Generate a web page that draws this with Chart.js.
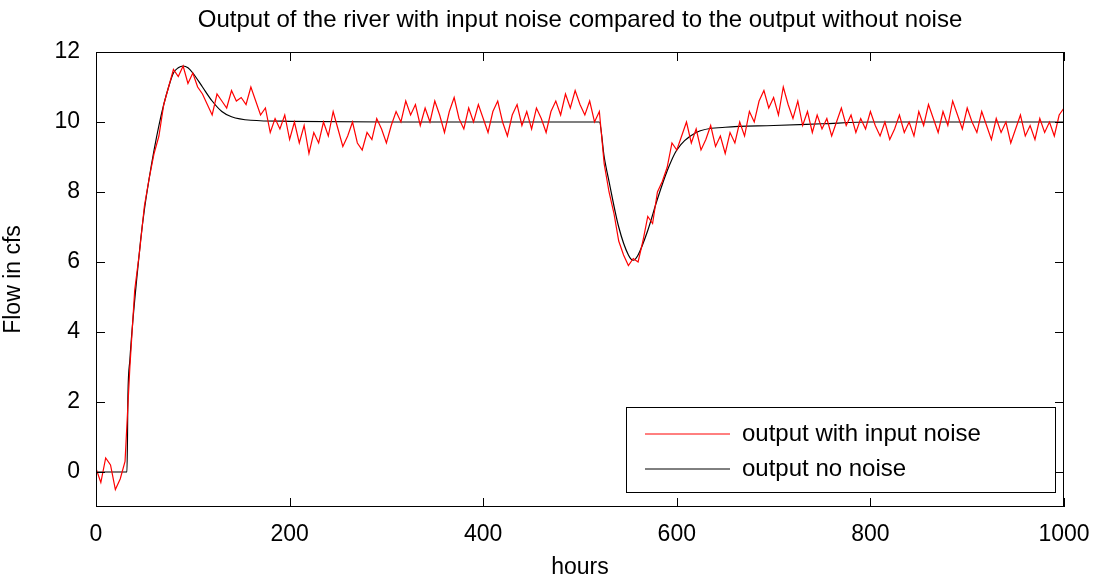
<!DOCTYPE html>
<html>
<head>
<meta charset="utf-8">
<script src="https://cdn.jsdelivr.net/npm/chart.js@4"></script>
<style>
  html, body { margin: 0; padding: 0; background: #fff; }
  #wrap { width: 1102px; height: 585px; }
</style>
</head>
<body>
<div id="wrap"><canvas id="riverChart"></canvas></div>
<script>
const chartTitle = 'Output of the river with input noise compared to the output without noise';
const xTicks = [0, 200, 400, 600, 800, 1000];
const yTicks = [0, 2, 4, 6, 8, 10, 12];

// noisy output, one value every 5 hours from 0 to 1000
const noisyStep = 5;
const noisyFlow = [
  0.1, -0.3, 0.4, 0.2, -0.5, -0.2, 0.3,
  3.0, 5.2, 6.3, 7.6, 8.4, 9.1, 9.6, 10.5, 11.0, 11.5, 11.3, 11.6, 11.1,
  11.4, 11.0, 10.8, 10.5, 10.2, 10.8, 10.6, 10.4, 10.9, 10.6, 10.7, 10.5, 11.0, 10.6, 10.2, 10.4,
  9.7, 10.1, 9.8, 10.2, 9.5, 10.0, 9.4, 9.9, 9.1, 9.7, 9.4, 10.0, 9.6, 10.3, 9.8, 9.3,
  9.6, 10.0, 9.4, 9.2, 9.7, 9.5, 10.1, 9.8, 9.4, 9.9, 10.3, 10.0, 10.6, 10.2, 10.5, 9.9,
  10.4, 10.0, 10.6, 10.2, 9.7, 10.3, 10.7, 10.1, 9.8, 10.4, 10.0, 10.5, 10.1, 9.7, 10.3, 10.6,
  10.0, 9.6, 10.2, 10.5, 9.9, 10.3, 9.8, 10.4, 10.1, 9.7, 10.3, 10.6, 10.2, 10.8, 10.4, 10.9,
  10.5, 10.2, 10.6, 10.0, 10.3, 8.8, 8.0, 7.4, 6.6, 6.2, 5.9, 6.1, 6.0, 6.6, 7.3, 7.1,
  8.0, 8.3, 8.7, 9.4, 9.2, 9.6, 10.0, 9.4, 9.8, 9.2, 9.5, 9.9, 9.3, 9.6, 9.1, 9.7,
  9.4, 10.0, 9.6, 10.3, 10.0, 10.6, 10.9, 10.4, 10.7, 10.2, 11.0, 10.5, 10.1, 10.6, 9.9, 10.3,
  9.7, 10.2, 9.8, 10.1, 9.6, 10.0, 10.4, 9.9, 10.2, 9.7, 10.1, 9.8, 10.3, 9.9, 9.6, 10.0,
  9.5, 9.8, 10.2, 9.7, 10.0, 9.6, 10.3, 9.9, 10.5, 10.1, 9.7, 10.3, 9.9, 10.6, 10.2, 9.8,
  10.4, 10.0, 9.7, 10.3, 9.9, 9.5, 10.1, 9.7, 10.0, 9.4, 9.8, 10.2, 9.6, 9.9, 9.5, 10.1,
  9.7, 10.0, 9.6, 10.2, 10.4
];

// noise-free output
const cleanHours = [0, 32, 33, 35, 38, 42, 46, 50, 55, 60, 65, 70, 75, 80, 85, 90, 95, 100, 110, 120, 130, 140, 160, 200, 300, 520,
  525, 530, 540, 550, 555, 560, 570, 580, 590, 600, 620, 650, 700, 750, 800, 1000];
const cleanFlow = [0, 0, 2.2, 3.2, 4.3, 5.5, 6.6, 7.5, 8.4, 9.2, 9.9, 10.5, 11.0, 11.4, 11.55, 11.6, 11.55, 11.4, 11.0, 10.6, 10.3, 10.15, 10.05, 10.02, 10.0, 10.0,
  9.0, 8.3, 7.0, 6.2, 6.05, 6.2, 6.9, 7.8, 8.6, 9.2, 9.7, 9.85, 9.9, 9.95, 10.0, 10.0];

const legendLabels = ['output with input noise', 'output no noise'];
const seriesColors = ['#ff0000', '#000000'];

const noisyPoints = noisyFlow.map((v, i) => ({ x: i * noisyStep, y: v }));
const cleanPoints = cleanHours.map((h, i) => ({ x: h, y: cleanFlow[i] }));

const FONT = '"Liberation Sans", Arial, sans-serif';

const matlabFrame = {
  id: 'matlabFrame',
  afterDraw(chart) {
    const { ctx, chartArea: a, scales } = chart;
    ctx.save();
    ctx.strokeStyle = '#000';
    ctx.lineWidth = 1;
    ctx.strokeRect(a.left + 0.5, a.top + 0.5, a.width - 1, a.height - 1);
    const tl = 9;
    ctx.beginPath();
    xTicks.forEach(t => {
      const px = Math.round(scales.x.getPixelForValue(t)) + 0.5;
      ctx.moveTo(px, a.bottom); ctx.lineTo(px, a.bottom - tl);
      ctx.moveTo(px, a.top); ctx.lineTo(px, a.top + tl);
    });
    yTicks.forEach(t => {
      const py = Math.round(scales.y.getPixelForValue(t)) + 0.5;
      ctx.moveTo(a.left, py); ctx.lineTo(a.left + tl, py);
      ctx.moveTo(a.right, py); ctx.lineTo(a.right - tl, py);
    });
    ctx.stroke();

    // title
    ctx.fillStyle = '#000';
    ctx.font = '24px ' + FONT;
    ctx.textAlign = 'center';
    ctx.textBaseline = 'middle';
    ctx.fillText(chartTitle, (a.left + a.right) / 2, 20);

    // legend
    const lx = 626, ly = 407, lw = 429, lh = 85;
    ctx.fillStyle = '#fff';
    ctx.fillRect(lx, ly, lw, lh);
    ctx.strokeRect(lx + 0.5, ly + 0.5, lw, lh);
    ctx.font = '24px ' + FONT;
    ctx.textAlign = 'left';
    legendLabels.forEach((lab, i) => {
      const y = ly + 27 + i * 35;
      ctx.strokeStyle = seriesColors[i];
      ctx.beginPath(); ctx.moveTo(645, y); ctx.lineTo(730, y); ctx.stroke();
      ctx.fillStyle = '#000';
      ctx.fillText(lab, 742, y);
    });
    ctx.restore();
  }
};

new Chart(document.getElementById('riverChart'), {
  type: 'scatter',
  data: {
    datasets: [
      { label: legendLabels[0], data: noisyPoints, showLine: true, borderColor: seriesColors[0], borderWidth: 1.2, pointRadius: 0, tension: 0 },
      { label: legendLabels[1], data: cleanPoints, showLine: true, borderColor: seriesColors[1], borderWidth: 1.2, pointRadius: 0, cubicInterpolationMode: 'monotone' }
    ]
  },
  options: {
    responsive: true,
    maintainAspectRatio: false,
    animation: false,
    layout: { padding: { top: 52, right: 38, left: 0, bottom: 0 } },
    plugins: { legend: { display: false }, title: { display: false }, tooltip: { enabled: false } },
    scales: {
      x: {
        type: 'linear', min: 0, max: 1000,
        afterBuildTicks: s => { s.ticks = xTicks.map(v => ({ value: v })); },
        afterFit: s => { s.height = 78; },
        grid: { display: false },
        border: { display: false },
        ticks: { color: '#000', font: { family: FONT, size: 23 }, padding: 6, maxRotation: 0, callback: v => String(v) },
        title: { display: true, text: 'hours', color: '#000', font: { family: FONT, size: 23 }, padding: { top: 2 } }
      },
      y: {
        type: 'linear', min: -1, max: 12,
        afterBuildTicks: s => { s.ticks = yTicks.map(v => ({ value: v })); },
        afterFit: s => { s.width = 96; },
        grid: { display: false },
        border: { display: false },
        ticks: { color: '#000', font: { family: FONT, size: 23 }, padding: 8, callback: v => String(v) },
        title: { display: true, text: 'Flow in cfs', color: '#000', font: { family: FONT, size: 23 }, padding: { top: 0, bottom: 2 } }
      }
    }
  },
  plugins: [matlabFrame]
});
</script>
</body>
</html>
